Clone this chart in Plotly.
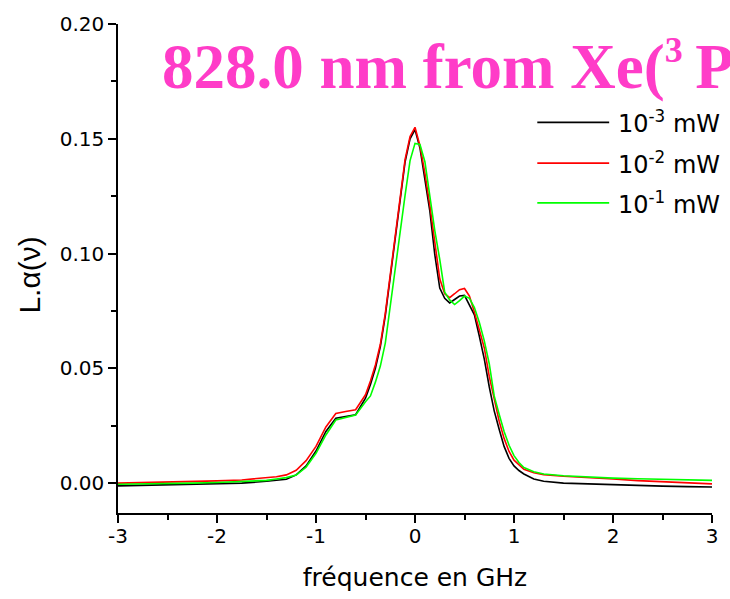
import plotly.graph_objects as go

# Frequency grid (GHz)
freq = [-3.0, -2.75, -2.5, -2.25, -2.0, -1.75, -1.5, -1.4, -1.3, -1.2, -1.1,
        -1.0, -0.9, -0.8, -0.7, -0.6, -0.5, -0.45, -0.4, -0.35, -0.3, -0.25,
        -0.2, -0.15, -0.1, -0.05, 0.0, 0.05, 0.1, 0.15, 0.2, 0.25, 0.3, 0.35,
        0.4, 0.45, 0.5, 0.55, 0.6, 0.65, 0.7, 0.75, 0.8, 0.85, 0.9, 0.95, 1.0,
        1.05, 1.1, 1.2, 1.3, 1.5, 1.75, 2.0, 2.25, 2.5, 2.75, 3.0]

# L.alpha(nu) for the three laser powers
p_1e_3 = [-0.0012, -0.0010, -0.0008, -0.0006, -0.0005, 0.0000, 0.0008, 0.0012,
          0.0017, 0.0036, 0.0075, 0.0140, 0.0225, 0.0283, 0.0290, 0.0298,
          0.0370, 0.0430, 0.0500, 0.0595, 0.0730, 0.0900, 0.1080, 0.1240,
          0.1400, 0.1500, 0.1540, 0.1460, 0.1320, 0.1185, 0.0995, 0.0850,
          0.0805, 0.0785, 0.0800, 0.0815, 0.0818, 0.0775, 0.0733, 0.0640,
          0.0540, 0.0420, 0.0315, 0.0235, 0.0160, 0.0108, 0.0075, 0.0055,
          0.0040, 0.0018, 0.0008, 0.0000, -0.0004, -0.0007, -0.0011, -0.0013,
          -0.0015, -0.0017]

p_1e_2 = [0.0000, 0.0002, 0.0004, 0.0007, 0.0010, 0.0014, 0.0022, 0.0028,
          0.0036, 0.0056, 0.0098, 0.0160, 0.0245, 0.0303, 0.0312, 0.0320,
          0.0385, 0.0445, 0.0515, 0.0605, 0.0740, 0.0905, 0.1085, 0.1245,
          0.1410, 0.1510, 0.1550, 0.1470, 0.1350, 0.1210, 0.1050, 0.0890,
          0.0825, 0.0808, 0.0825, 0.0843, 0.0848, 0.0815, 0.0745, 0.0670,
          0.0589, 0.0465, 0.0360, 0.0270, 0.0195, 0.0138, 0.0100, 0.0078,
          0.0060, 0.0045, 0.0037, 0.0030, 0.0025, 0.0018, 0.0011, 0.0006,
          0.0002, -0.0003]

p_1e_1 = [-0.0005, -0.0004, -0.0002, 0.0000, 0.0003, 0.0007, 0.0012, 0.0018,
          0.0024, 0.0035, 0.0070, 0.0130, 0.0210, 0.0275, 0.0287, 0.0297,
          0.0355, 0.0380, 0.0440, 0.0510, 0.0610, 0.0775, 0.0945, 0.1110,
          0.1255, 0.1405, 0.1480, 0.1475, 0.1400, 0.1250, 0.1100, 0.0975,
          0.0832, 0.0798, 0.0778, 0.0795, 0.0815, 0.0805, 0.0765, 0.0700,
          0.0620, 0.0520, 0.0380, 0.0300, 0.0225, 0.0165, 0.0120, 0.0090,
          0.0068, 0.0050, 0.0040, 0.0032, 0.0026, 0.0022, 0.0019, 0.0017,
          0.0015, 0.0012]

series_names = ["10<sup>-3</sup> mW", "10<sup>-2</sup> mW", "10<sup>-1</sup> mW"]
series_values = [p_1e_3, p_1e_2, p_1e_1]
series_colors = ["#000000", "#ff0000", "#00ff00"]

x_ticks = [-3, -2, -1, 0, 1, 2, 3]
x_tick_text = ["-3", "-2", "-1", "0", "1", "2", "3"]
y_ticks = [0.0, 0.05, 0.10, 0.15, 0.20]
y_tick_text = ["0.00", "0.05", "0.10", "0.15", "0.20"]

title_text = ("828.0 nm from Xe(<sup><span style='font-size:36px'>3</span>"
              "</sup>\u2009P")
x_label = "fréquence en GHz"
y_label = "L.α(ν)"

W, H = 730, 599
ML, MR, MT, MB = 118, 17, 24, 83
PW, PH = W - ML - MR, H - MT - MB


def paper_x(px):
    return (px - ML) / PW


def paper_y(py):
    return (H - MB - py) / PH


fig = go.Figure()
for name, vals, col in zip(series_names, series_values, series_colors):
    fig.add_trace(go.Scatter(x=freq, y=vals, mode="lines", name=name,
                             line=dict(color=col, width=1.6),
                             showlegend=False))

# Legend drawn as line samples and labels
legend_rows = [123, 164, 204]
shapes = []
annotations = []
for name, col, row in zip(series_names, series_colors, legend_rows):
    shapes.append(dict(type="line", xref="paper", yref="paper",
                       x0=paper_x(538), x1=paper_x(610),
                       y0=paper_y(row), y1=paper_y(row),
                       line=dict(color=col, width=1.6)))
    annotations.append(dict(text=name, xref="paper", yref="paper",
                            x=paper_x(617), y=paper_y(row),
                            xanchor="left", yanchor="middle", showarrow=False,
                            font=dict(family="DejaVu Sans", size=24,
                                      color="#000000")))

annotations.append(dict(text=title_text, xref="paper", yref="paper",
                        x=paper_x(160), y=paper_y(66),
                        xanchor="left", yanchor="middle", showarrow=False,
                        font=dict(family="Liberation Serif", size=63,
                                  color="#ff3cc8", weight="bold")))

annotations.append(dict(text=y_label, xref="paper", yref="paper",
                        x=paper_x(29), y=paper_y(277), textangle=-90,
                        xanchor="center", yanchor="middle", showarrow=False,
                        font=dict(family="Liberation Sans", size=30,
                                  color="#000000")))

axis_font = dict(family="DejaVu Sans", size=20, color="#000000")

fig.update_layout(
    width=W, height=H,
    margin=dict(l=ML, r=MR, t=MT, b=MB),
    paper_bgcolor="white", plot_bgcolor="white",
    shapes=shapes, annotations=annotations,
    xaxis=dict(range=[-3, 3], tickmode="array", tickvals=x_ticks,
               ticktext=x_tick_text, showgrid=False,
               zeroline=False, showline=True, linecolor="black",
               linewidth=1.5, ticks="outside", ticklen=8, tickwidth=1.5,
               tickcolor="black", tickfont=axis_font, ticklabelstandoff=-4,
               minor=dict(dtick=0.5, tick0=0, ticks="outside", ticklen=5,
                          tickwidth=1.5, tickcolor="black"),
               title=dict(text=x_label, standoff=22,
                          font=dict(family="DejaVu Sans", size=25,
                                    color="#000000"))),
    yaxis=dict(range=[-0.013, 0.20], tickmode="array", tickvals=y_ticks,
               ticktext=y_tick_text,
               showgrid=False, zeroline=False, showline=True,
               linecolor="black", linewidth=1.5, ticks="outside", ticklen=8,
               tickwidth=1.5, tickcolor="black", tickfont=axis_font,
               minor=dict(dtick=0.025, tick0=0, ticks="outside", ticklen=5,
                          tickwidth=1.5, tickcolor="black")),
)

fig.write_html("out.html")
